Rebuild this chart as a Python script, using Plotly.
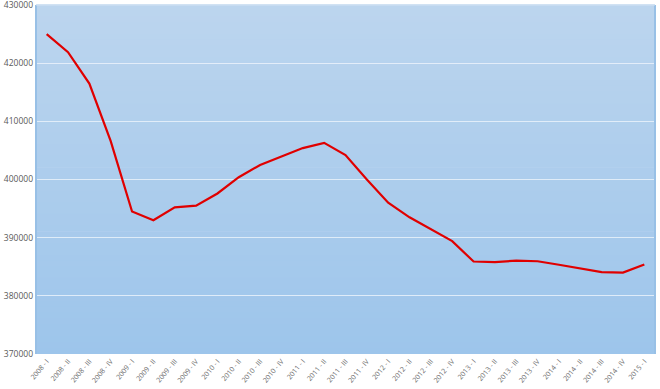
import plotly.graph_objects as go

quarters = ["2008 - I", "2008 - II", "2008 - III", "2008 - IV",
            "2009 - I", "2009 - II", "2009 - III", "2009 - IV",
            "2010 - I", "2010 - II", "2010 - III", "2010 - IV",
            "2011 - I", "2011 - II", "2011 - III", "2011 - IV",
            "2012 - I", "2012 - II", "2012 - III", "2012 - IV",
            "2013 - I", "2013 - II", "2013 - III", "2013 - IV",
            "2014 - I", "2014 - II", "2014 - III", "2014 - IV",
            "2015 - I"]
values = [425000, 421900, 416500, 406600,
          394500, 393000, 395200, 395500,
          397600, 400400, 402500, 403900,
          405400, 406300, 404200, 400000,
          396000, 393500, 391500, 389400,
          385900, 385800, 386050, 385950,
          385350, 384650, 384080, 384000,
          385400]
y_ticks = [370000, 380000, 390000, 400000, 410000, 420000, 430000]

fig = go.Figure()
fig.add_trace(go.Scatter(
    x=quarters, y=values, mode="lines",
    line=dict(color="#e00000", width=2.2),
    hoverinfo="x+y", showlegend=False,
))

# vertical gradient background as thin bands
shapes = []
n = 60
top = (188, 213, 238)
bot = (157, 197, 235)
for i in range(n):
    t = i / (n - 1)
    c = tuple(round(top[k] + (bot[k] - top[k]) * t) for k in range(3))
    shapes.append(dict(type="rect", xref="x domain", yref="y domain",
                       x0=0, x1=1, y0=1 - (i + 1) / n, y1=1 - i / n + 0.002,
                       fillcolor="rgb(%d,%d,%d)" % c, line=dict(width=0),
                       layer="below"))
# side borders
shapes.append(dict(type="line", xref="x domain", yref="y domain",
                   x0=0, x1=0, y0=0, y1=1, line=dict(color="#98c0e6", width=2)))
shapes.append(dict(type="line", xref="x domain", yref="y domain",
                   x0=1, x1=1, y0=0, y1=1, line=dict(color="#98c0e6", width=2)))
shapes.append(dict(type="line", xref="x domain", yref="y domain",
                   x0=0, x1=1, y0=1, y1=1, line=dict(color="#d4e4f4", width=1)))

fig.update_layout(
    width=660, height=389,
    margin=dict(l=36, r=5, t=5, b=35, autoexpand=False),
    paper_bgcolor="white",
    plot_bgcolor="rgba(0,0,0,0)",
    shapes=shapes,
    font=dict(family="Open Sans, Liberation Sans, sans-serif", color="#595959"),
    xaxis=dict(
        type="category", range=[-0.5, len(quarters) - 0.5],
        tickangle=-50, tickfont=dict(size=7, color="#6b6b6b"),
        showgrid=False, zeroline=False, showline=False, ticks="",
        ticklabelstandoff=1, automargin=False, ticklabeloverflow="allow",
    ),
    yaxis=dict(
        range=[370000, 430001], tickvals=y_ticks,
        ticktext=[str(v) for v in y_ticks],
        tickfont=dict(size=8.5, color="#595959"),
        showgrid=True, gridcolor="rgba(238,244,251,0.8)", gridwidth=1.3,
        zeroline=False, showline=False, ticks="", automargin=False,
        ticklabelstandoff=2, ticklabeloverflow="allow",
    ),
)

fig.write_html(
    "out.html",
    config={"displayModeBar": False},
    post_script="document.body.style.margin='0';document.body.style.overflow='hidden';",
)
